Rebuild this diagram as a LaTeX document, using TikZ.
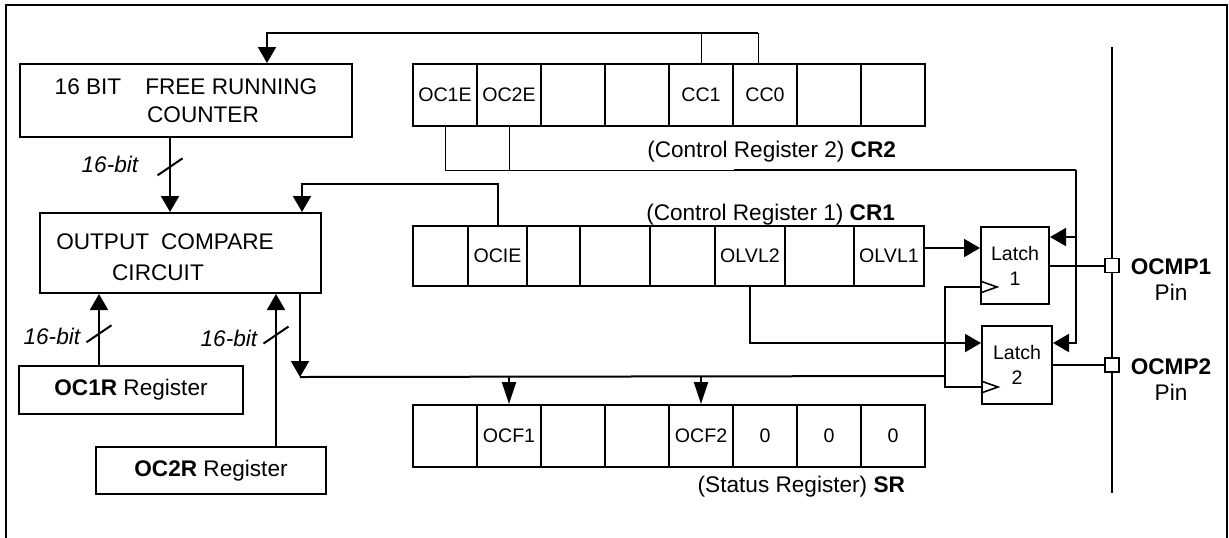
\documentclass[tikz,border=0pt]{standalone}
\usepackage{fontspec}
\setmainfont{Liberation Sans}
\usetikzlibrary{arrows.meta}

\begin{document}
\begin{tikzpicture}[x=0.5pt, y=-0.5pt, font=\fontsize{11.3}{14}\selectfont,
  blk/.style={draw, line width=1pt, inner sep=0pt},
  cell/.style={draw, line width=1pt, inner sep=0pt, minimum width=32pt, minimum height=31pt, font=\fontsize{9.8}{12.5}\selectfont},
  wire/.style={line width=1pt},
  thinwire/.style={line width=0.5pt},
  arr/.style={wire, -{Triangle[width=9pt,length=8pt]}},
  sarr/.style={wire, -{Triangle[width=7pt,length=11pt]}},
  pad/.style={draw, fill=white, line width=0.8pt, inner sep=0pt, minimum size=7pt},
  slash/.pic={\draw[wire] (-12.5,8.5) -- (12.5,-8.5);},
  clk/.pic={\draw[line width=0.8pt] (0,-6) -- (17,0) -- (0,6);}]

\useasboundingbox (0,0) rectangle (1229,537);

% frame
\coordinate (fbl) at (6,560);
\coordinate (fbr) at (1227,560);
\draw[wire] (fbl) -- (6,5) -- (1227,5) -- (fbr);

% blocks
\node[blk, minimum width=166pt, minimum height=36.5pt, align=center] (frc) at (186,100.5) {16 BIT\hspace{12pt}FREE RUNNING\\\hspace*{17pt}COUNTER};
\node[blk, minimum width=140.5pt, minimum height=40pt] (occ) at (180.5,253) {};
\node[align=center, font=\fontsize{11.3}{15.5}\selectfont] (occtxt) at (165,257.5) {OUTPUT\hspace{6pt}COMPARE\\\hspace*{-7pt}CIRCUIT};
\node[blk, minimum width=112pt, minimum height=24pt] (ocr1) at (131,390) {\textbf{OC1R} Register};
\node[blk, minimum width=115pt, minimum height=23.5pt] (ocr2) at (211,470.5) {\textbf{OC2R} Register};

\node[blk, minimum width=34pt, minimum height=38.5pt, align=center, font=\fontsize{9.8}{12.5}\selectfont] (latch1) at (1015,265.5) {Latch\\1};
\node[blk, minimum width=35pt, minimum height=39pt, align=center, font=\fontsize{9.8}{12.5}\selectfont] (latch2) at (1017,365) {Latch\\2};

% registers
\foreach \txt [count=\i] in {OC1E,OC2E,{},{},CC1,CC0,{},{}}
  \node[cell] (crtwo-\i) at (381+64*\i,95) {\txt};
\foreach \cx/\cw/\txt [count=\i] in {440.5/27.5pt/{},497.5/29.5pt/OCIE,553.5/26.5pt/{},615/35pt/{},682.5/32.5pt/{},750/35pt/OLVL2,819.5/34.5pt/{},889/35pt/OLVL1}
  \node[cell, minimum width=\cw, minimum height=30pt] (crone-\i) at (\cx,256) {\txt};
\foreach \txt [count=\i] in {{},OCF1,{},{},OCF2,0,0,0}
  \node[cell] (srreg-\i) at (381+64*\i,436) {\txt};

\node[anchor=east] (cr2cap) at (903,152) {(Control Register 2) \textbf{CR2}};
\node[anchor=east] (cr1cap) at (902,215) {(Control Register 1) \textbf{CR1}};
\node[anchor=east] (srcap) at (912,487) {(Status Register) \textbf{SR}};

% pins
\coordinate (bustop) at (1112,47);
\coordinate (busbot) at (1112,493);
\draw[wire] (bustop) -- (busbot);
\node[pad] (pad1) at (1112,265.5) {};
\node[pad] (pad2) at (1112,365) {};
\draw[wire] (latch1.east) -- (pad1);
\draw[wire] (latch2.east) -- (pad2);
\node[align=center, font=\fontsize{11.3}{13}\selectfont] (ocmp1) at (1171,280) {\textbf{OCMP1}\\Pin};
\node[align=center, font=\fontsize{11.3}{13}\selectfont] (ocmp2) at (1171,380) {\textbf{OCMP2}\\Pin};

% counter feedback
\coordinate (fbtop) at (758,33);
\draw[thinwire] (crtwo-5.north) -- (crtwo-5.north |- fbtop);
\draw[thinwire] ([xshift=-3.5pt]crtwo-6.north) -- (fbtop);
\draw[arr] (fbtop) -| ([xshift=40.5pt]frc.north);

% 16-bit buses
\draw[arr] ([xshift=-8pt]frc.south) -- coordinate[pos=0.39] (bw0) ([xshift=-8pt]frc.south |- occ.north);
\pic at (bw0) {slash};
\node[anchor=east] (bl0) at ([xshift=-12pt, yshift=1pt]bw0) {\textit{16-bit}};
\draw[arr] ([xshift=-16pt]ocr1.north) -- coordinate[pos=0.44] (bw1) ([xshift=-16pt]ocr1.north |- occ.south);
\pic at (bw1) {slash};
\node[anchor=east] (bl1) at ([xshift=-5.5pt, yshift=-1.5pt]bw1) {\textit{16-bit}};
\draw[arr] ([xshift=32.5pt]ocr2.north) -- coordinate[pos=0.73] (bw2) ([xshift=32.5pt]ocr2.north |- occ.south);
\pic at (bw2) {slash};
\node[anchor=east] (bl2) at ([xshift=-5.5pt, yshift=-1.5pt]bw2) {\textit{16-bit}};

% OCIE
\draw[arr] (crone-2.north) -- ++(0,-41) -| ([xshift=60.75pt]occ.north);

% compare output
\draw[arr] ([xshift=59.75pt]occ.south) -- ++(0,83) coordinate (flg);
\coordinate (clkx) at (945,376);
\draw[wire] (flg) -- (clkx);
\draw[wire] ([yshift=-10.75pt]latch1.west) -| (clkx) |- ([yshift=-11pt]latch2.west);
\pic at ([yshift=-10.75pt]latch1.west) {clk};
\pic at ([yshift=-11pt]latch2.west) {clk};
\draw[sarr] (srreg-2.north |- flg) -- (srreg-2.north);
\draw[sarr] (srreg-5.north |- flg) -- (srreg-5.north);

% output levels
\draw[arr] ([yshift=4pt]crone-8.east) -- ([yshift=4pt]crone-8.east -| latch1.west);
\draw[arr] (crone-6.south) |- ([yshift=11pt]latch2.west);

% output enables
\coordinate (oce) at (1076,170);
\coordinate (l1in) at ([yshift=14.25pt]latch1.east);
\draw[thinwire] (crtwo-1.south) |- (crtwo-5.south east |- oce);
\draw[thinwire] (crtwo-2.south) -- (crtwo-2.south |- oce);
\draw[wire] (crtwo-5.south east |- oce) -- (oce);
\draw[arr] (oce) |- ([yshift=11pt]latch2.east);
\draw[arr] (oce |- l1in) -- (l1in);

\end{tikzpicture}
\end{document}
